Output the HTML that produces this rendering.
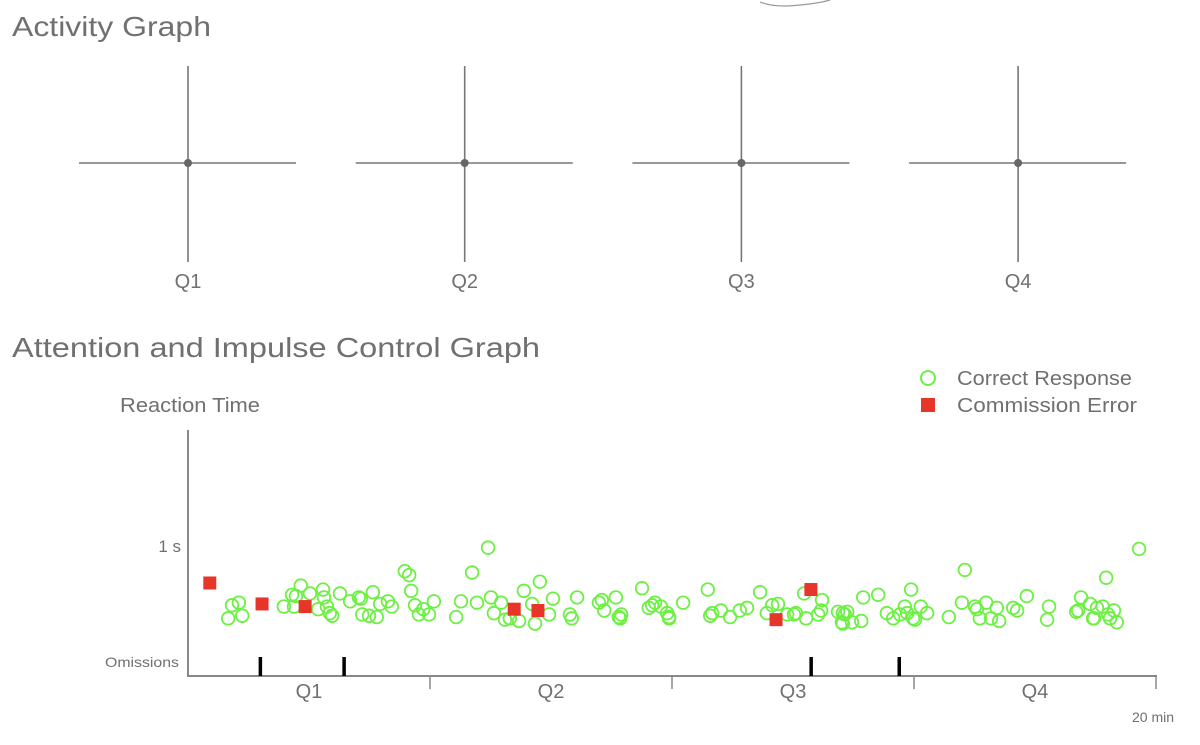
<!DOCTYPE html>
<html><head><meta charset="utf-8"><style>
body{margin:0;background:#fff;width:1200px;height:740px;overflow:hidden;font-family:"Liberation Sans",sans-serif}
svg text{font-family:"Liberation Sans",sans-serif;fill:#707070}
</style></head><body>
<svg id="chart" width="1200" height="740">
<path d="M760 2 Q775 8 800 5 Q820 3 830 0" stroke="#999" fill="none" stroke-width="1.2"/>
<text x="12" y="36" font-size="28" textLength="199" lengthAdjust="spacingAndGlyphs">Activity Graph</text>
<g id="activity"></g>
<text x="12" y="357" font-size="28" textLength="528" lengthAdjust="spacingAndGlyphs">Attention and Impulse Control Graph</text>
<g>
<circle cx="928" cy="378" r="7" fill="none" stroke="#6cf043" stroke-width="2"/>
<text x="957" y="385" font-size="20" textLength="175" lengthAdjust="spacingAndGlyphs">Correct Response</text>
<rect x="921" y="398" width="14" height="14" fill="#e8352a"/>
<text x="957" y="412" font-size="20" textLength="180" lengthAdjust="spacingAndGlyphs">Commission Error</text>
</g>
<text x="120" y="412" font-size="20" textLength="140" lengthAdjust="spacingAndGlyphs">Reaction Time</text>
<text x="181" y="552" font-size="17" text-anchor="end">1 s</text>
<text x="105" y="667" font-size="14" textLength="74" lengthAdjust="spacingAndGlyphs">Omissions</text>
<text x="1132" y="722" font-size="14">20 min</text>
<line x1="188" y1="430" x2="188" y2="677" stroke="#888" stroke-width="2"/>
<line x1="187" y1="676" x2="1157" y2="676" stroke="#888" stroke-width="2"/>
<g id="plot"></g>
</svg>
<script>
const quarters=["Q1","Q2","Q3","Q4"];
const redT=[0.45,1.53,2.42,6.74,7.23,12.15,12.87];
const redRT=[0.71,0.55,0.53,0.51,0.50,0.43,0.66];
const omitT=[1.49,3.22,12.87,14.69];
const greenT=[0.91,1.05,0.83,1.12,1.98,2.15,2.23,2.33,2.19,2.52,2.79,2.81,2.69,2.87,2.93,2.98,3.14,3.35,3.53,3.57,3.82,3.60,3.74,3.90,3.97,4.13,4.21,4.48,4.57,4.61,4.69,4.77,4.86,4.98,5.08,5.64,5.54,5.87,5.97,6.20,6.26,6.47,6.32,6.55,6.65,6.84,6.94,7.11,7.27,7.17,7.46,7.54,7.89,7.93,8.04,8.49,8.55,8.60,8.84,8.90,8.95,8.93,9.38,9.52,9.59,9.65,9.77,9.90,9.94,9.94,10.23,10.74,10.79,10.83,11.01,11.20,11.40,11.55,11.82,11.96,12.07,12.19,12.38,12.52,12.56,12.73,12.77,13.02,13.08,13.10,13.43,13.51,13.57,13.53,13.62,13.53,13.72,13.91,13.95,14.26,14.44,14.57,14.71,14.81,14.94,14.86,14.98,15.02,15.14,15.27,15.72,15.99,16.05,16.26,16.30,16.49,16.36,16.59,16.71,16.76,17.05,17.13,17.33,17.79,17.75,18.35,18.39,18.45,18.64,18.70,18.72,18.78,18.90,18.97,19.01,19.05,19.13,19.19,19.65];
const greenRT=[0.54,0.56,0.44,0.46,0.53,0.62,0.61,0.69,0.53,0.63,0.66,0.60,0.51,0.53,0.48,0.46,0.63,0.57,0.60,0.59,0.64,0.47,0.46,0.45,0.55,0.57,0.53,0.80,0.77,0.65,0.54,0.47,0.51,0.47,0.57,0.57,0.45,0.79,0.56,0.98,0.60,0.56,0.48,0.43,0.44,0.42,0.65,0.55,0.72,0.40,0.47,0.59,0.47,0.44,0.60,0.56,0.58,0.50,0.60,0.45,0.47,0.44,0.67,0.52,0.54,0.56,0.53,0.48,0.45,0.44,0.56,0.66,0.46,0.48,0.50,0.45,0.50,0.52,0.64,0.48,0.54,0.55,0.47,0.47,0.48,0.63,0.44,0.47,0.50,0.58,0.49,0.41,0.47,0.48,0.49,0.40,0.41,0.42,0.60,0.62,0.48,0.44,0.47,0.53,0.66,0.48,0.44,0.43,0.53,0.48,0.45,0.56,0.81,0.53,0.51,0.56,0.44,0.44,0.52,0.42,0.52,0.50,0.61,0.53,0.43,0.49,0.50,0.60,0.55,0.44,0.44,0.52,0.53,0.75,0.47,0.44,0.50,0.41,0.97];
const NS="http://www.w3.org/2000/svg";
const xS=t=>188+t*48.4;
const yS=r=>676-r*131;
function mk(tag,attrs,parent){const e=document.createElementNS(NS,tag);for(const k in attrs)e.setAttribute(k,attrs[k]);parent.appendChild(e);return e;}
const act=document.getElementById('activity');
quarters.forEach((q,i)=>{
  const cx=188+i*276.7,cy=163;
  const g=mk('g',{},act);
  
  
  const h=mk('line',{x1:cx-109,y1:cy,x2:cx+108,y2:cy,stroke:'#777','stroke-width':1.6},g);
  
  
  const v=mk('line',{x1:cx,y1:66,x2:cx,y2:262,stroke:'#777','stroke-width':1.6},g);
  
  
  const d=mk('circle',{cx:cx,cy:cy,r:4,fill:'#666'},g);
  
  
  const t=mk('text',{x:cx,y:288,'font-size':20,'text-anchor':'middle'},g);
  t.textContent=q;
  
  
});
const plot=document.getElementById('plot');
quarters.forEach((q,i)=>{
  const x1=xS(i*5),x2=xS((i+1)*5);
  if(i>0){const tk=mk('line',{x1:x1,y1:676,x2:x1,y2:689,stroke:'#888','stroke-width':1.5},plot);
  
  }
  const t=mk('text',{x:(x1+x2)/2,y:698,'font-size':20,'text-anchor':'middle'},plot);
  t.textContent=q;
  
  
});
const endTk=mk('line',{x1:xS(20),y1:676,x2:xS(20),y2:689,stroke:'#888','stroke-width':1.5},plot);


omitT.forEach(t=>{
  const r=mk('rect',{x:xS(t)-1.5,y:657,width:3.5,height:19,fill:'#000'},plot);
  
  
});
greenT.forEach((t,i)=>{
  const c=mk('circle',{cx:xS(t),cy:yS(greenRT[i]),r:6.3,fill:'none',stroke:'#6cf043','stroke-width':1.8},plot);
  
  
});
redT.forEach((t,i)=>{
  const r=mk('rect',{x:xS(t)-6.5,y:yS(redRT[i])-6.5,width:13,height:13,fill:'#e8352a'},plot);
  
  
});
</script>
</body></html>
